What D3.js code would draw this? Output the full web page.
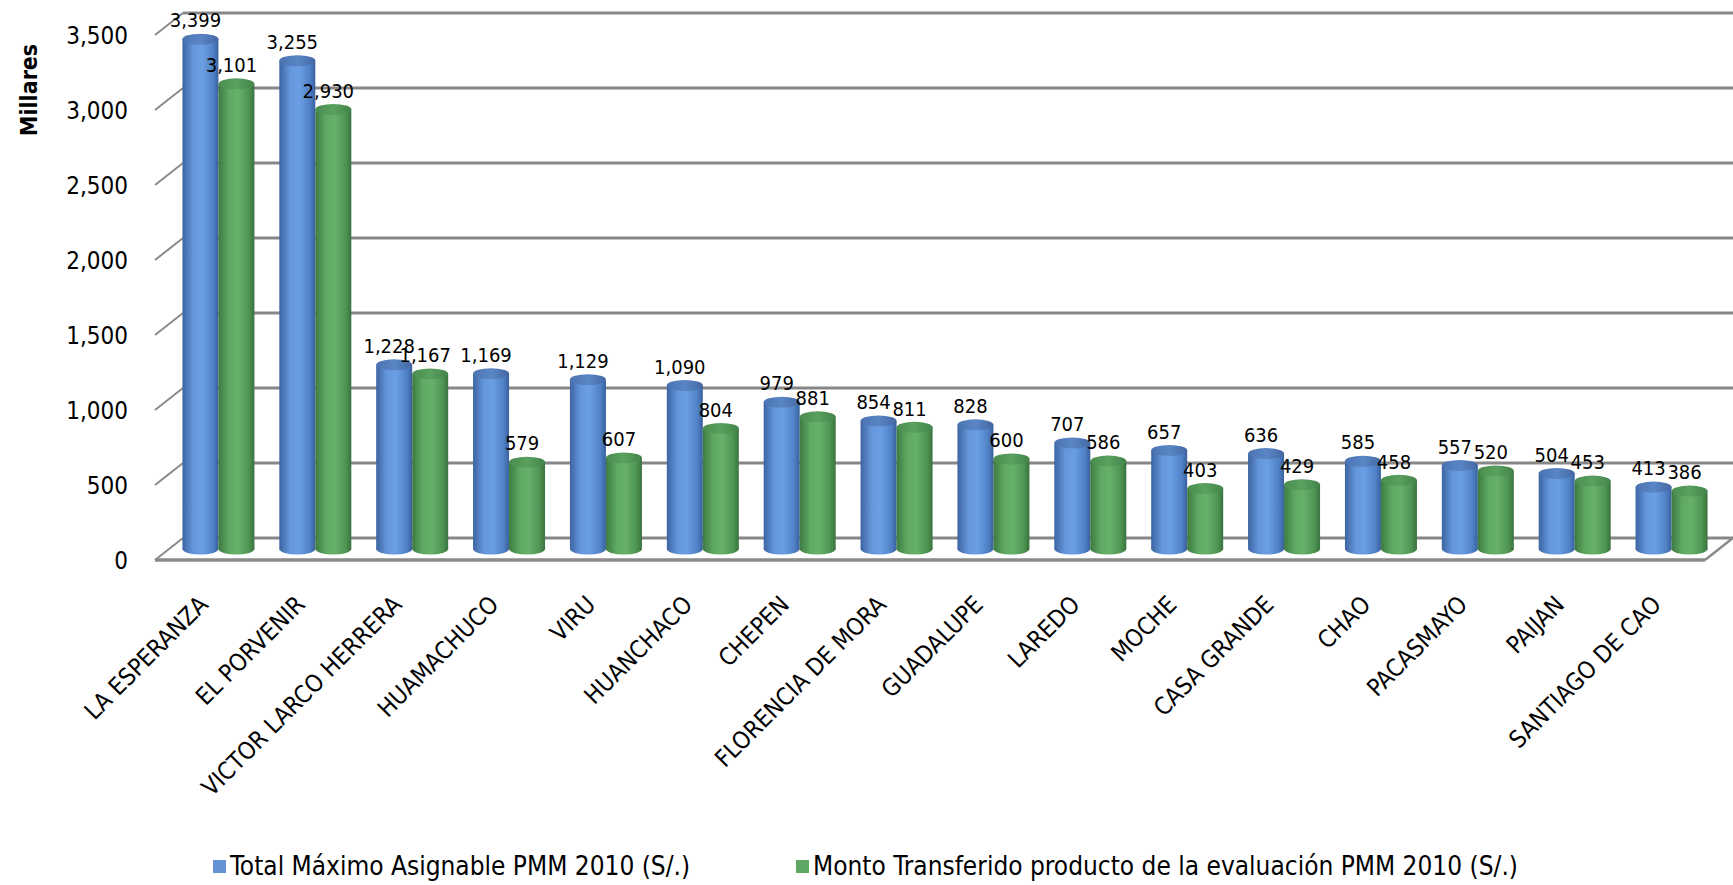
<!DOCTYPE html>
<html><head><meta charset="utf-8">
<script src="https://cdn.jsdelivr.net/npm/d3@7"></script>
<style>
html,body{margin:0;padding:0;background:#fff;}
text{font-family:"DejaVu Sans Condensed","DejaVu Sans",sans-serif;font-stretch:condensed;fill:#000;}
</style></head>
<body>
<svg id="chart" width="1733" height="885"></svg>
<script>
const categories = ["LA ESPERANZA","EL PORVENIR","VICTOR LARCO HERRERA","HUAMACHUCO","VIRU","HUANCHACO","CHEPEN","FLORENCIA DE MORA","GUADALUPE","LAREDO","MOCHE","CASA GRANDE","CHAO","PACASMAYO","PAIJAN","SANTIAGO DE CAO"];
const seriesNames = ["Total Máximo Asignable PMM 2010 (S/.)","Monto Transferido producto de la evaluación PMM 2010 (S/.)"];
const totalMaximo = [3399,3255,1228,1169,1129,1090,979,854,828,707,657,636,585,557,504,413];
const montoTransferido = [3101,2930,1167,579,607,804,881,811,600,586,403,429,458,520,453,386];
const yTicks = [0,500,1000,1500,2000,2500,3000,3500];
const yTitle = "Millares";

const svg = d3.select("#chart");
const depthX = 28, depthY = -22;
const x = d3.scaleBand().domain(categories).range([155,1705]);
const y = d3.scaleLinear().domain([0,3500]).range([560,35]);
const barW = 36;
const sub = d3.scaleBand().domain([0,1]).range([0, barW*2]);
const fmt = d3.format(",");

// gradients
const defs = svg.append("defs");
function grad(id, stops){
  const g = defs.append("linearGradient").attr("id",id).attr("x1","0").attr("x2","1").attr("y1","0").attr("y2","0");
  stops.forEach(s=>g.append("stop").attr("offset",s[0]).attr("stop-color",s[1]));
}
grad("gBlue",[[0,"#3c64a2"],[0.3,"#6596db"],[0.55,"#6b9ee2"],[0.85,"#5081c6"],[1,"#39609c"]]);
grad("gGreen",[[0,"#3d7a41"],[0.3,"#5fa963"],[0.55,"#66b06a"],[0.85,"#4e9352"],[1,"#3a733e"]]);
grad("gBlueTop",[[0,"#4a72b0"],[0.5,"#5a86c6"],[1,"#4468a4"]]);
grad("gGreenTop",[[0,"#4b8d50"],[0.5,"#5aa05e"],[1,"#43844a"]]);

// floor
svg.append("polygon")
  .attr("points",[[155,y(0)],[1705,y(0)],[1705+depthX,y(0)+depthY],[155+depthX,y(0)+depthY]].map(p=>p.join(",")).join(" "))
  .attr("fill","#fff").attr("stroke","none");

// gridlines on back wall + slanted side ticks
const grid = svg.append("g");
yTicks.forEach(v=>{
  grid.append("line").attr("x1",155+depthX).attr("x2",1705+depthX)
    .attr("y1",y(v)+depthY).attr("y2",y(v)+depthY)
    .attr("stroke","#878787").attr("stroke-width",3);
  grid.append("line").attr("x1",155).attr("x2",155+depthX)
    .attr("y1",y(v)).attr("y2",y(v)+depthY)
    .attr("stroke","#8a8a8a").attr("stroke-width",2);
});
// floor front edge and right edge
svg.append("line").attr("x1",155).attr("x2",1705).attr("y1",y(0)).attr("y2",y(0))
  .attr("stroke","#8a8a8a").attr("stroke-width",3.5);
svg.append("line").attr("x1",1705).attr("x2",1705+depthX).attr("y1",y(0)).attr("y2",y(0)+depthY)
  .attr("stroke","#8a8a8a").attr("stroke-width",2.5);

// y axis labels
const yAx = svg.append("g");
yTicks.forEach(v=>{
  yAx.append("text").attr("x",128).attr("y",y(v)).attr("dy","0.36em")
    .attr("text-anchor","end").style("font-size","24px").text(fmt(v));
});
svg.append("text").attr("transform","translate(37,90) rotate(-90)")
  .attr("text-anchor","middle").style("font-size","23px").style("font-weight","bold").text(yTitle);

// bars (cylinders)
const ry = 5.5;
const bars = svg.append("g");
const midX = depthX/2, midY = depthY/2;
const series = [
  {vals: totalMaximo, body:"url(#gBlue)", top:"url(#gBlueTop)"},
  {vals: montoTransferido, body:"url(#gGreen)", top:"url(#gGreenTop)"}
];
const groupOffset = (x.bandwidth() - barW*2)/2 + midX + 1;
categories.forEach((c,i)=>{
  series.forEach((s,k)=>{
    const v = s.vals[i];
    const x0 = x(c) + groupOffset + sub(k);
    const cx = x0 + barW/2;
    const yb = y(0) + midY;
    const yt = y(v) + midY;
    const g = bars.append("g");
    g.append("ellipse").attr("cx",cx).attr("cy",yb).attr("rx",barW/2).attr("ry",ry).attr("fill",s.body);
    g.append("rect").attr("x",x0).attr("y",yt).attr("width",barW).attr("height",yb-yt).attr("fill",s.body);
    g.append("ellipse").attr("cx",cx).attr("cy",yt).attr("rx",barW/2).attr("ry",ry).attr("fill",s.top);
  });
});

// data labels
const lab = svg.append("g");
categories.forEach((c,i)=>{
  series.forEach((s,k)=>{
    const v = s.vals[i];
    const cx = x(c) + groupOffset + sub(k) + barW/2;
    lab.append("text").attr("x",cx-5).attr("y",y(v)+midY-19).attr("dy","0.36em")
      .attr("text-anchor","middle").style("font-size","20px").text(fmt(v));
  });
});

// category labels
const xl = svg.append("g");
categories.forEach(c=>{
  const gx = x(c) + groupOffset + barW - 9;
  xl.append("text").attr("transform",`translate(${gx},606) rotate(-45)`)
    .attr("text-anchor","end").style("font-size","24px").text(c);
});

// legend
const leg = svg.append("g");
const legItems = [{x:213, fill:"#6592d4", name:seriesNames[0]},{x:796, fill:"#5fa863", name:seriesNames[1]}];
legItems.forEach(d=>{
  leg.append("rect").attr("x",d.x).attr("y",860).attr("width",13).attr("height",13).attr("fill",d.fill);
  leg.append("text").attr("x",d.x+17).attr("y",866).attr("dy","0.36em").style("font-size","26px").text(d.name);
});
</script>
</body></html>
